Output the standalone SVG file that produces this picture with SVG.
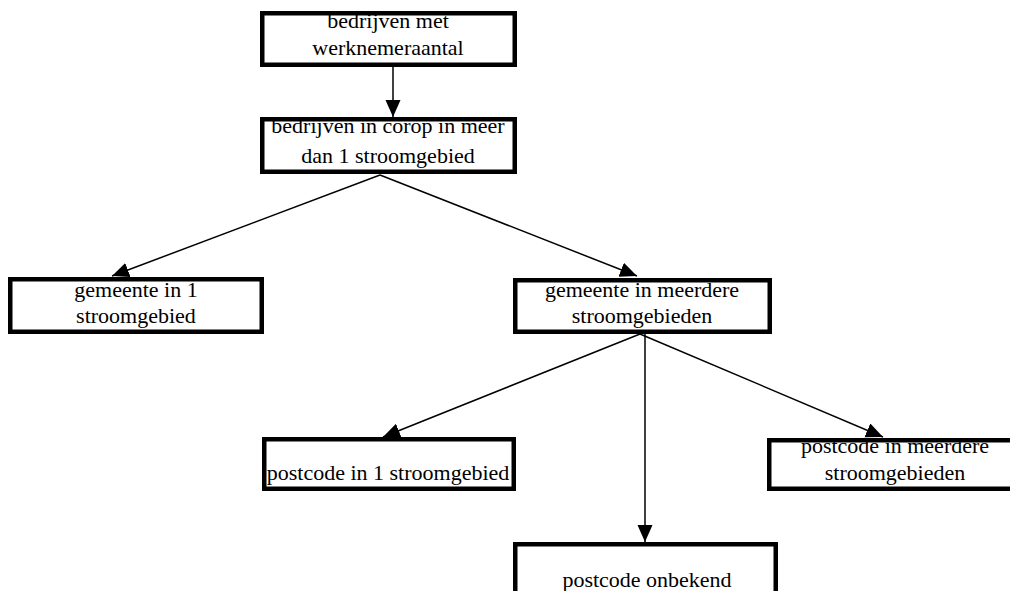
<svg xmlns="http://www.w3.org/2000/svg" width="1010" height="591" viewBox="0 0 1010 591">
<style>
.box{fill:none;stroke:#000;stroke-width:4.5}
.t{font-family:"Liberation Serif","Times New Roman",serif;font-size:22px;fill:#000;text-anchor:middle}
.c{stroke:#000;stroke-width:1.5;fill:none;marker-end:url(#ah)}
</style>
<defs>
<marker id="ah" markerUnits="userSpaceOnUse" markerWidth="18" markerHeight="16" refX="17" refY="7.5" orient="auto">
<path d="M0,0 L17,7.5 L0,15 z" fill="#000"/>
</marker>
</defs>
<rect width="1010" height="591" fill="#fff"/>
<g id="connectors">
<line class="c" x1="393" y1="67" x2="393" y2="117"/>
<line class="c" x1="380" y1="175" x2="112" y2="276"/>
<line class="c" x1="380" y1="175" x2="637" y2="276"/>
<line class="c" x1="640" y1="334" x2="383" y2="437"/>
<line class="c" x1="640" y1="334" x2="883" y2="437"/>
<line class="c" x1="645" y1="334" x2="645" y2="542"/>
</g>
<g id="n1">
<text class="t" x="388" y="28">bedrijven met</text>
<text class="t" x="388" y="55">werknemeraantal</text>
<rect class="box" x="262.25" y="13.25" width="252.5" height="51.5"/>
</g>
<g id="n2">
<text class="t" x="388" y="133">bedrijven in corop in meer</text>
<text class="t" x="388" y="163">dan 1 stroomgebied</text>
<rect class="box" x="262.25" y="119.25" width="252.5" height="52.5"/>
</g>
<g id="n3">
<text class="t" x="136" y="297">gemeente in 1</text>
<text class="t" x="136" y="323">stroomgebied</text>
<rect class="box" x="10.25" y="279.25" width="251.5" height="52.5"/>
</g>
<g id="n4">
<text class="t" x="642" y="297">gemeente in meerdere</text>
<text class="t" x="642" y="323">stroomgebieden</text>
<rect class="box" x="515.25" y="280.25" width="254.5" height="51.5"/>
</g>
<g id="n5">
<text class="t" x="388" y="480">postcode in 1 stroomgebied</text>
<rect class="box" x="264.25" y="439.25" width="249.5" height="49.5"/>
</g>
<g id="n6">
<text class="t" x="895" y="453">postcode in meerdere</text>
<text class="t" x="895" y="480">stroomgebieden</text>
<rect class="box" x="769.25" y="440.25" width="280" height="48.5"/>
</g>
<g id="n7">
<text class="t" x="647" y="587">postcode onbekend</text>
<rect class="box" x="515.25" y="544.25" width="260.5" height="60"/>
</g>
</svg>
